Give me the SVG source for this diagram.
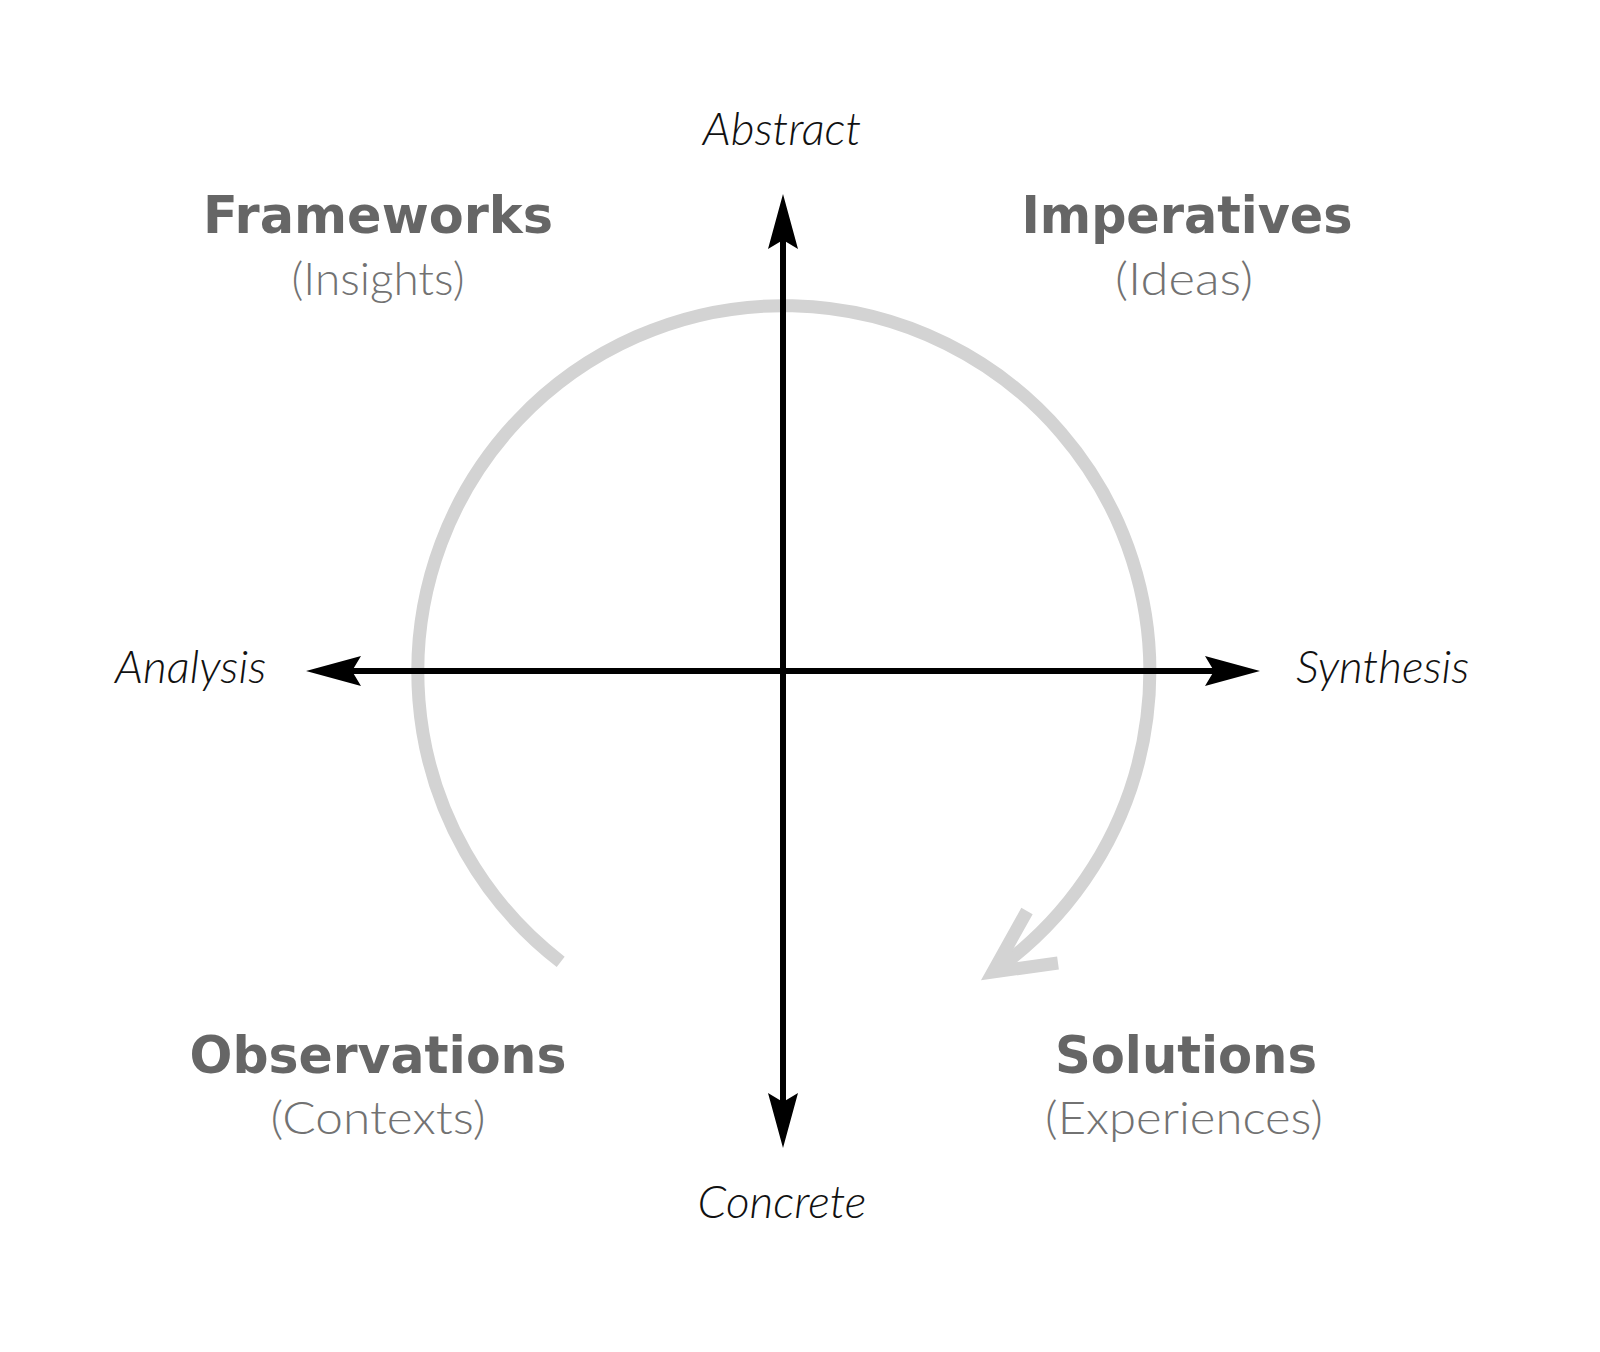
<svg xmlns="http://www.w3.org/2000/svg" width="1600" height="1352" viewBox="0 0 1600 1352">
<defs>
<style>
.axis{stroke:#000;stroke-width:6;fill:none}
.cycle{stroke:#d3d3d3;stroke-width:13;fill:none}
.lbl{font-family:Lato,"Open Sans","Liberation Sans",sans-serif;font-style:italic;font-weight:300;font-size:46px;fill:#111}
.head{font-family:"DejaVu Sans","Liberation Sans",sans-serif;font-weight:700;font-size:52px;fill:#666;text-anchor:middle}
.sub{font-family:Lato,"Open Sans","Liberation Sans",sans-serif;font-weight:300;font-size:45px;fill:#727272;text-anchor:middle}
</style>
<marker id="ah" markerUnits="userSpaceOnUse" viewBox="-10 -16 58 32" refX="0" refY="0" markerWidth="58" markerHeight="32" orient="auto-start-reverse">
<path d="M46,0 L-9,-15 L0,0 L-9,15 Z" fill="#000"/>
</marker>
</defs>
<rect width="1600" height="1352" fill="#fff"/>
<g id="connectors">
<path id="cycle" class="cycle" d="M560.7,961.8 A366,366 0 1 1 993,972"/>
<polyline class="cycle" points="1027,911 993,972 1058,963" stroke-linejoin="miter" stroke-miterlimit="10"/>
<line id="vaxis" class="axis" x1="783" y1="240" x2="783" y2="1102" marker-start="url(#ah)" marker-end="url(#ah)"/>
<line id="haxis" class="axis" x1="352" y1="671" x2="1214" y2="671" marker-start="url(#ah)" marker-end="url(#ah)"/>
</g>
<g id="axis-labels">
<text class="lbl" x="782" y="145" text-anchor="middle">Abstract</text>
<text class="lbl" x="782" y="1218" text-anchor="middle">Concrete</text>
<text class="lbl" x="115" y="683">Analysis</text>
<text class="lbl" x="1296" y="683">Synthesis</text>
</g>
<g id="frameworks">
<text class="head" x="378" y="233" textLength="350" lengthAdjust="spacingAndGlyphs">Frameworks</text>
<text class="sub" x="378" y="295" textLength="173" lengthAdjust="spacingAndGlyphs">(Insights)</text>
</g>
<g id="imperatives">
<text class="head" x="1187" y="233" textLength="331" lengthAdjust="spacingAndGlyphs">Imperatives</text>
<text class="sub" x="1184" y="295" textLength="138" lengthAdjust="spacingAndGlyphs">(Ideas)</text>
</g>
<g id="observations">
<text class="head" x="378" y="1073" textLength="377" lengthAdjust="spacingAndGlyphs">Observations</text>
<text class="sub" x="378" y="1134" textLength="215" lengthAdjust="spacingAndGlyphs">(Contexts)</text>
</g>
<g id="solutions">
<text class="head" x="1186" y="1073" textLength="262" lengthAdjust="spacingAndGlyphs">Solutions</text>
<text class="sub" x="1184" y="1134" textLength="278" lengthAdjust="spacingAndGlyphs">(Experiences)</text>
</g>
</svg>
